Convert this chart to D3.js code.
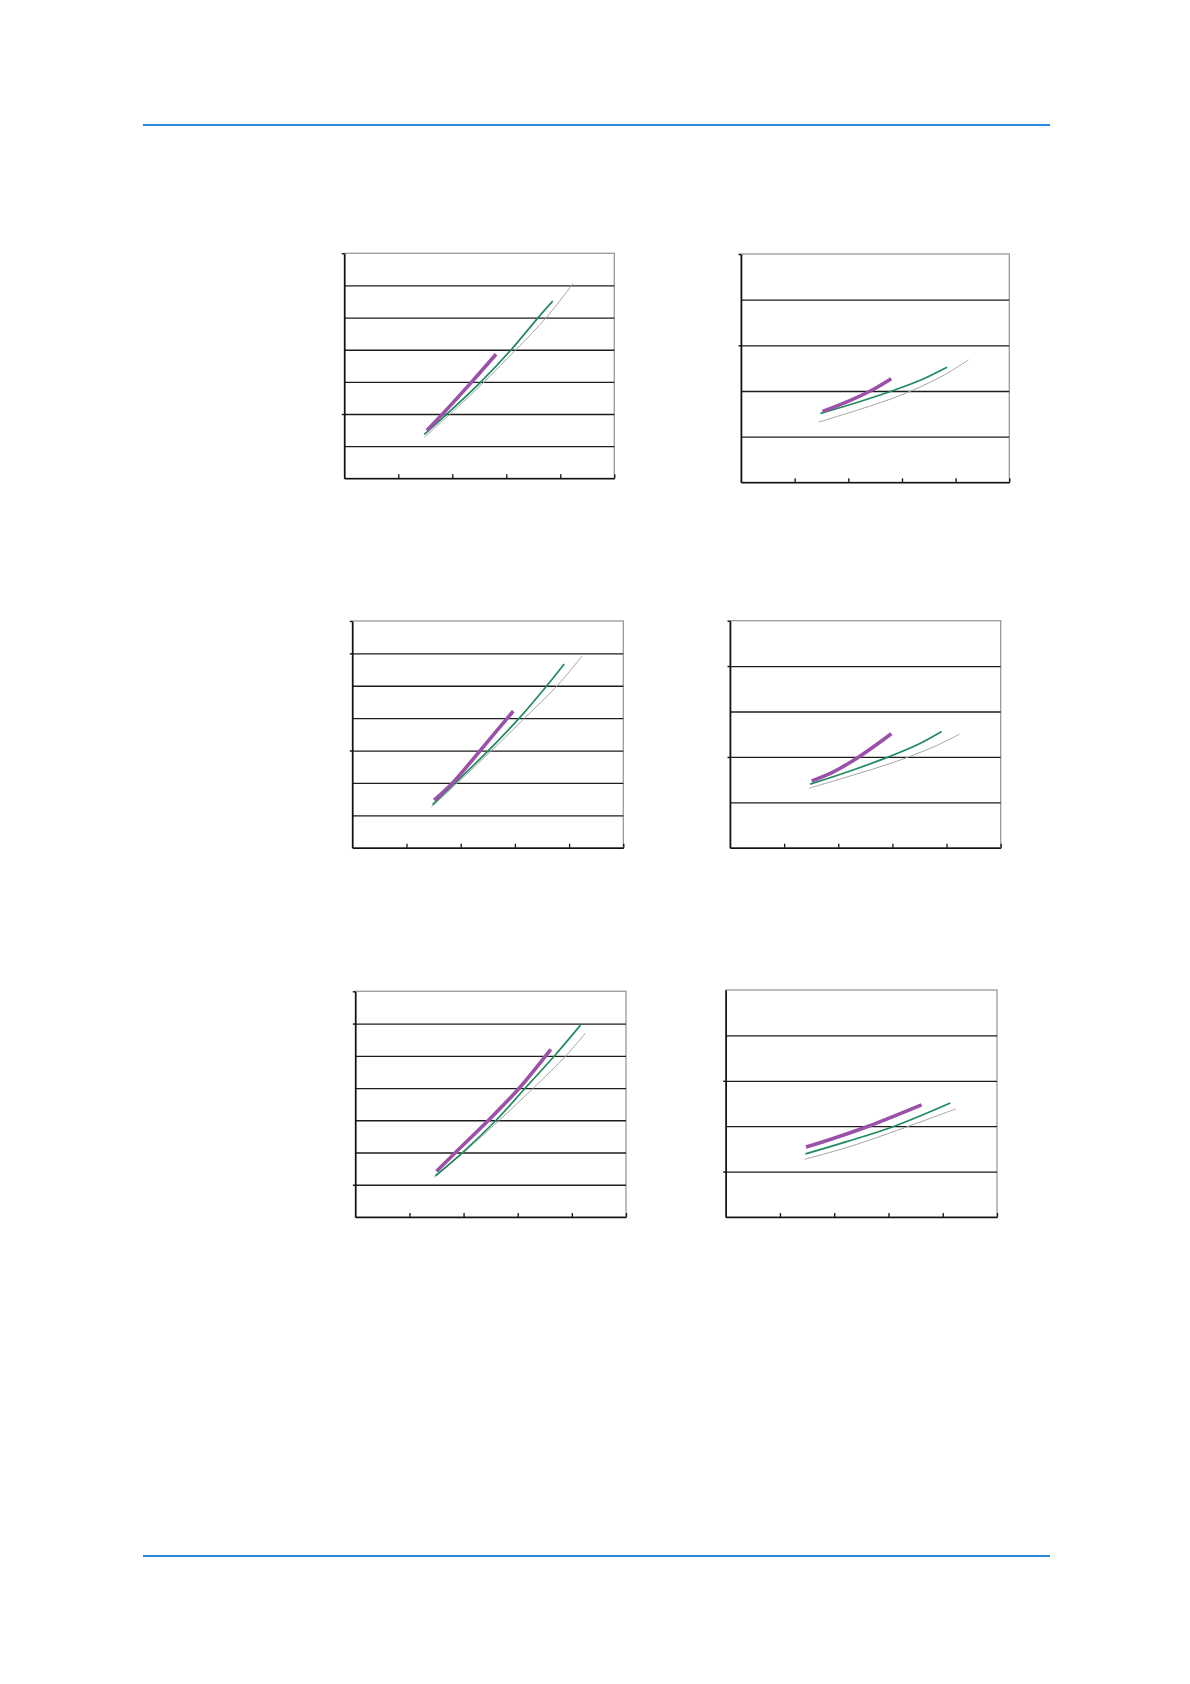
<!DOCTYPE html>
<html>
<head>
<meta charset="utf-8">
<script src="https://cdn.jsdelivr.net/npm/d3@7"></script>
<style>
html,body{margin:0;padding:0;background:#fff;}
svg{display:block;}
</style>
</head>
<body>
<svg id="page" width="1190" height="1684"></svg>
<script>
// ---- data ----
const xTickValues = [0, 1, 2, 3, 4, 5];
const yTicksTall = [0, 1, 2, 3, 4, 5, 6, 7];
const yTicksShort = [0, 1, 2, 3, 4, 5];

// chart 1 (top-left)
const c1Gray   = [[1.48,1.28],[1.96,2.0],[2.59,3.0],[3.18,4.0],[3.74,5.0],[4.24,6.07]];
const c1Green  = [[1.48,1.37],[1.90,2.0],[2.53,3.0],[3.09,4.0],[3.59,5.0],[3.86,5.51]];
const c1Purple = [[1.53,1.49],[1.82,2.0],[2.36,3.0],[2.81,3.86]];
// chart 2 (top-right)
const c2Gray   = [[1.45,1.32],[2.22,1.60],[2.96,1.90],[3.71,2.30],[4.24,2.68]];
const c2Green  = [[1.48,1.51],[2.22,1.77],[2.81,2.00],[3.35,2.24],[3.84,2.52]];
const c2Purple = [[1.52,1.55],[1.95,1.75],[2.41,2.00],[2.80,2.27]];
// chart 3 (middle-left)
const c3Gray   = [[1.46,1.25],[1.94,2.0],[2.57,3.0],[3.18,4.0],[3.78,5.0],[4.24,5.92]];
const c3Green  = [[1.48,1.33],[1.90,2.0],[2.51,3.0],[3.08,4.0],[3.59,5.0],[3.91,5.67]];
const c3Purple = [[1.51,1.47],[1.85,2.0],[2.36,3.0],[2.97,4.22]];
// chart 4 (middle-right)
const c4Gray   = [[1.46,1.31],[2.22,1.58],[3.00,1.87],[3.76,2.22],[4.24,2.50]];
const c4Green  = [[1.48,1.40],[2.22,1.69],[2.93,2.00],[3.45,2.26],[3.91,2.56]];
const c4Purple = [[1.51,1.47],[1.91,1.67],[2.38,2.00],[2.98,2.51]];
// chart 5 (bottom-left)
const c5Gray   = [[1.46,1.23],[2.00,2.0],[2.66,3.0],[3.29,4.0],[3.89,5.0],[4.25,5.70]];
const c5Green  = [[1.48,1.28],[1.98,2.0],[2.60,3.0],[3.14,4.0],[3.68,5.0],[4.16,5.95]];
const c5Purple = [[1.50,1.42],[1.85,2.0],[2.46,3.0],[3.03,4.0],[3.61,5.20]];
// chart 6 (bottom-right)
const c6Gray   = [[1.45,1.27],[2.23,1.53],[3.00,1.84],[3.65,2.12],[4.24,2.38]];
const c6Green  = [[1.47,1.39],[2.23,1.66],[3.11,2.00],[4.14,2.51]];
const c6Purple = [[1.48,1.54],[1.98,1.73],[2.63,2.00],[3.61,2.47]];

// left-axis tick marks that remain visible in the reference
const c1LeftTicks = [7, 2];
const c2LeftTicks = [5, 3];
const c3LeftTicks = [7, 6, 3];
const c4LeftTicks = [5, 4, 2];
const c5LeftTicks = [7, 6, 1];
const c6LeftTicks = [3, 1];

// ---- layout ----
const panels = [
  {x0:344.3, y0:253.3, x1:614.3, y1:478.3, yTicks:yTicksTall,  left:c1LeftTicks, series:[c1Gray,c1Green,c1Purple]},
  {x0:741.0, y0:254.0, x1:1009.3,y1:482.3, yTicks:yTicksShort, left:c2LeftTicks, series:[c2Gray,c2Green,c2Purple]},
  {x0:352.3, y0:621.0, x1:623.3, y1:847.7, yTicks:yTicksTall,  left:c3LeftTicks, series:[c3Gray,c3Green,c3Purple]},
  {x0:730.0, y0:620.7, x1:1000.7,y1:847.7, yTicks:yTicksShort, left:c4LeftTicks, series:[c4Gray,c4Green,c4Purple]},
  {x0:355.3, y0:991.3, x1:626.0, y1:1217.0,yTicks:yTicksTall,  left:c5LeftTicks, series:[c5Gray,c5Green,c5Purple]},
  {x0:725.7, y0:990.0, x1:997.0, y1:1217.0,yTicks:yTicksShort, left:c6LeftTicks, series:[c6Gray,c6Green,c6Purple]}
];
const seriesStyle = [
  {stroke:"#a6a6a6", width:1.0},
  {stroke:"#1f8a5f", width:1.7},
  {stroke:"#9b50a9", width:3.6}
];

const svg = d3.select("#page");

// blue header / footer rules
svg.append("line").attr("x1",143).attr("x2",1050).attr("y1",125).attr("y2",125)
  .attr("stroke","#2b88d9").attr("stroke-width",2.2);
svg.append("line").attr("x1",143).attr("x2",1050).attr("y1",1556).attr("y2",1556)
  .attr("stroke","#2b88d9").attr("stroke-width",2.2);

panels.forEach(p => {
  const w = p.x1 - p.x0, h = p.y1 - p.y0;
  const yMax = d3.max(p.yTicks);
  const x = d3.scaleLinear().domain([0,5]).range([0,w]);
  const y = d3.scaleLinear().domain([0,yMax]).range([h,0]);
  const g = svg.append("g").attr("transform",`translate(${p.x0},${p.y0})`);

  // plot-area border (top and right are grey)
  g.append("rect").attr("x",0).attr("y",0).attr("width",w).attr("height",h)
    .attr("fill","none").attr("stroke","#9a9a9a").attr("stroke-width",1.3);

  // horizontal gridlines
  const grid = g.append("g").call(
    d3.axisLeft(y).tickValues(p.yTicks.filter(v => v>0 && v<yMax)).tickSize(-w).tickFormat(""));
  grid.select(".domain").remove();
  grid.selectAll(".tick line").attr("stroke","#1c1c1c").attr("stroke-width",1.3);

  // left axis with the few visible short ticks
  const la = g.append("g").call(
    d3.axisLeft(y).tickValues(p.left).tickSizeInner(2.5).tickSizeOuter(0).tickFormat(""));
  la.select(".domain").attr("stroke","#111").attr("stroke-width",1.6);
  la.selectAll(".tick line").attr("stroke","#111").attr("stroke-width",1.4);

  // bottom axis with inward ticks
  const ba = g.append("g").attr("transform",`translate(0,${h})`).call(
    d3.axisBottom(x).tickValues(xTickValues.filter(v => v>0)).tickSizeInner(-4).tickSizeOuter(0).tickFormat(""));
  ba.select(".domain").attr("stroke","#111").attr("stroke-width",1.6);
  ba.selectAll(".tick line").attr("stroke","#111").attr("stroke-width",1.3);

  // curves
  const line = d3.line().x(d => x(d[0])).y(d => y(d[1])).curve(d3.curveCatmullRom.alpha(0.5));
  p.series.forEach((s,i) => {
    g.append("path").datum(s).attr("d",line)
      .attr("fill","none")
      .attr("stroke",seriesStyle[i].stroke)
      .attr("stroke-width",seriesStyle[i].width)
      .attr("stroke-linecap","butt");
  });
});
</script>
</body>
</html>
